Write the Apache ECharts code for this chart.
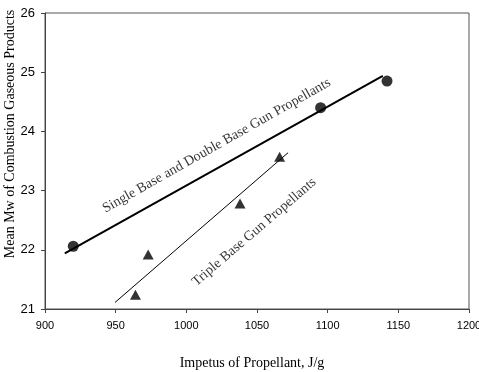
<!DOCTYPE html>
<html>
<head>
<meta charset="utf-8">
<script src="https://cdn.jsdelivr.net/npm/echarts@6/dist/echarts.min.js"></script>
<style>html,body{margin:0;padding:0;background:#fff;}#c{width:479px;height:372px;}</style>
</head>
<body>
<div id="c"></div>
<script>
// Data
var singleDoubleX = [920, 1095, 1142];
var singleDoubleY = [22.06, 24.4, 24.85];
var tripleX = [964, 973, 1038, 1066];
var tripleY = [21.24, 21.92, 22.78, 23.57];
var fitSingleX = [914, 1139];
var fitSingleY = [21.94, 24.94];
var fitTripleX = [949.5, 1072];
var fitTripleY = [21.11, 23.64];
var labelTexts = ['Single Base and Double Base Gun Propellants', 'Triple Base Gun Propellants'];
var labelX = [1021.5, 1048];
var labelY = [23.76, 22.30];
var xTicks = [900, 950, 1000, 1050, 1100, 1150, 1200];
var yTicks = [21, 22, 23, 24, 25, 26];

function pairs(xs, ys) { return xs.map(function (x, i) { return [x, ys[i]]; }); }

var chart = echarts.init(document.getElementById('c'));
var serif = '"Liberation Serif", "Times New Roman", serif';
var sans = '"Liberation Sans", Arial, sans-serif';
chart.setOption({
  animation: false,
  backgroundColor: '#fff',
  grid: { left: 45, right: 10, top: 13, bottom: 63, containLabel: false, outerBoundsMode: 'none',
          show: true, borderColor: '#555', borderWidth: 1, backgroundColor: 'transparent' },
  xAxis: {
    type: 'value', min: xTicks[0], max: xTicks[xTicks.length - 1], interval: 50,
    name: 'Impetus of Propellant, J/g', nameLocation: 'middle', nameGap: 47,
    nameTextStyle: { fontFamily: serif, fontSize: 14, color: '#000', padding: [0, 10, 0, 0] },
    axisLine: { lineStyle: { color: '#444', width: 1 } },
    axisTick: { show: true, inside: false, length: 4, lineStyle: { color: '#444' } },
    axisLabel: { fontFamily: sans, fontSize: 11, color: '#000', margin: 11,
                 formatter: function (v) { return String(v); } },
    splitLine: { show: false }
  },
  yAxis: {
    type: 'value', min: yTicks[0], max: yTicks[yTicks.length - 1], interval: 1,
    name: 'Mean Mw of Combustion Gaseous Products', nameLocation: 'middle', nameGap: 28,
    nameMoveOverlap: false,
    nameTextStyle: { fontFamily: serif, fontSize: 14, color: '#000', padding: [0, 0, 0, 54] },
    axisLine: { show: true, lineStyle: { color: '#444', width: 1 } },
    axisTick: { show: true, inside: false, length: 4, lineStyle: { color: '#444' } },
    axisLabel: { fontFamily: sans, fontSize: 13, color: '#000', margin: 10 },
    splitLine: { show: false }
  },
  series: [
    { type: 'line', data: pairs(fitSingleX, fitSingleY), symbol: 'none', lineStyle: { color: '#000', width: 2 }, z: 2 },
    { type: 'line', data: pairs(fitTripleX, fitTripleY), symbol: 'none', lineStyle: { color: '#000', width: 1 }, z: 2 },
    { type: 'scatter', data: pairs(singleDoubleX, singleDoubleY), symbol: 'circle', symbolSize: 11, itemStyle: { color: '#000' }, z: 3 },
    { type: 'scatter', data: pairs(tripleX, tripleY), symbol: 'triangle', symbolSize: [11, 10], itemStyle: { color: '#000' }, z: 3 },
    { type: 'scatter', data: [[labelX[0], labelY[0]]], symbolSize: 0, silent: true,
      label: { show: true, position: 'inside', rotate: 29.5, formatter: labelTexts[0], fontFamily: serif, fontSize: 14, color: '#000' } },
    { type: 'scatter', data: [[labelX[1], labelY[1]]], symbolSize: 0, silent: true,
      label: { show: true, position: 'inside', rotate: 40.6, formatter: labelTexts[1], fontFamily: serif, fontSize: 14, color: '#000' } }
  ]
});
</script>
</body>
</html>
